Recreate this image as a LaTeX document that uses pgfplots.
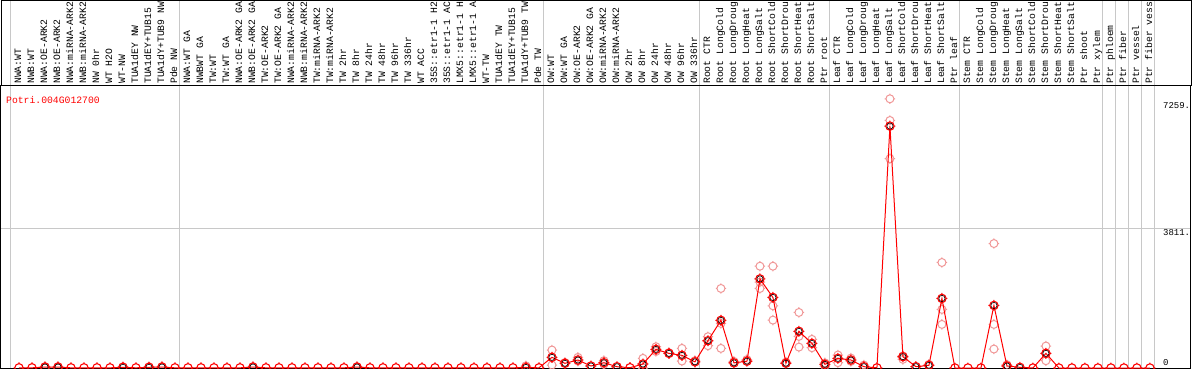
\documentclass[border=0pt]{standalone}
\usepackage{fontspec}
\usepackage{pgfplots}
\pgfplotsset{compat=1.18}
\newfontfamily\mono{Liberation Mono}
\definecolor{sepgray}{RGB}{200,200,200}
\definecolor{repred}{RGB}{240,150,150}
\pgfdeclareplotmark{tcirc}{%
  \pgfpathcircle{\pgfpointorigin}{\pgfplotmarksize}%
  \pgfpathmoveto{\pgfpoint{\pgfplotmarksize}{0pt}}\pgfpathlineto{\pgfpoint{1.3\pgfplotmarksize}{0pt}}%
  \pgfpathmoveto{\pgfpoint{-\pgfplotmarksize}{0pt}}\pgfpathlineto{\pgfpoint{-1.3\pgfplotmarksize}{0pt}}%
  \pgfpathmoveto{\pgfpoint{0pt}{\pgfplotmarksize}}\pgfpathlineto{\pgfpoint{0pt}{1.3\pgfplotmarksize}}%
  \pgfpathmoveto{\pgfpoint{0pt}{-\pgfplotmarksize}}\pgfpathlineto{\pgfpoint{0pt}{-1.3\pgfplotmarksize}}%
  \pgfusepathqstroke}
\begin{document}
\begin{tikzpicture}
\useasboundingbox (0,0) rectangle (1194pt,370pt);
\begin{axis}[at={(1pt,2pt)}, anchor=south west, scale only axis,
 width=1190pt, height=282pt,
 xmin=-1.3846, xmax=90.1538, ymin=0, ymax=7690,
 xtick={0,...,87},
 xticklabels={NWA:WT,NWB:WT,NWA:OE-ARK2,NWB:OE-ARK2,NWA:miRNA-ARK2,NWB:miRNA-ARK2,NW 0hr,WT H2O,WT-NW,TUA1dEY NW,TUA1dEY+TUB15,TUA1dY+TUB9 NW,Pde NW,
 NWA:WT GA,NWBWT GA,TW:WT,TW:WT GA,NWA:OE-ARK2 GA,NWB:OE-ARK2 GA,TW:OE-ARK2,TW:OE-ARK2 GA,NWA:miRNA-ARK2,NWB:miRNA-ARK2,TW:miRNA-ARK2,TW:miRNA-ARK2,TW 2hr,TW 8hr,TW 24hr,TW 48hr,TW 96hr,TW 336hr,WT ACC,35S::etr1-1 H2,35S::etr1-1 AC,LMX5::etr1-1 H,LMX5::etr1-1 A,WT-TW,TUA1dEY TW,TUA1dEY+TUB15,TUA1dY+TUB9 TW,Pde TW,
 OW:WT,OW:WT GA,OW:OE-ARK2,OW:OE-ARK2 GA,OW:miRNA-ARK2,OW:miRNA-ARK2,OW 2hr,OW 8hr,OW 24hr,OW 48hr,OW 96hr,OW 336hr,
 Root CTR,Root LongCold,Root LongDroug,Root LongHeat,Root LongSalt,Root ShortCold,Root ShortDrou,Root ShortHeat,Root ShortSalt,Ptr root,
 Leaf CTR,Leaf LongCold,Leaf LongDroug,Leaf LongHeat,Leaf LongSalt,Leaf ShortCold,Leaf ShortDrou,Leaf ShortHeat,Leaf ShortSalt,Ptr leaf,
 Stem CTR,Stem LongCold,Stem LongDroug,Stem LongHeat,Stem LongSalt,Stem ShortCold,Stem ShortDrou,Stem ShortHeat,Stem ShortSalt,Ptr shoot,Ptr xylem,
 Ptr phloem,Ptr fiber,Ptr vessel,Ptr fiber vess},
 xticklabel pos=upper,
 x tick label style={rotate=90, anchor=mid west, inner xsep=2pt, inner ysep=0pt, font=\mono\fontsize{9.75}{10}\selectfont},
 extra x ticks={-0.65,12.35,40.35,52.35,62.35,72.35,83.35,84.35,85.35,86.35,87.35},
 extra x tick labels={}, extra x tick style={grid=major},
 ytick={3811}, yticklabels={}, ymajorgrids,
 major grid style={sepgray, line width=1pt},
 major tick length=0pt,
 axis line style={black, line width=1pt},
 clip marker paths=true,
]
\addplot[only marks, mark=tcirc, mark size=4pt, repred, line width=1pt] coordinates {
(2,40)(2,10)(3,40)(3,10)(8,35)(10,35)(11,40)(18,40)(26,40)(39,60)
(41,490)(41,80)(42,150)(43,290)(43,188)(45,200)(45,100)(48,263)(48,0)(49,580)(49,450)(50,420)(51,535)(51,190)(52,200)
(53,853)(53,608)(54,2169)(54,1216)(54,535)(55,180)(56,230)(57,2776)(57,2169)(57,2345)(58,2776)(58,1696)(58,1306)(59,160)(60,1515)(60,862)(60,570)(61,781)(61,553)(62,140)(62,50)
(63,354)(63,145)(64,270)(64,180)(65,80)(67,7341)(67,6750)(67,5708)(68,236)(68,330)(70,100)(71,2877)(71,1598)(71,1189)
(75,3394)(75,1189)(75,517)(76,90)(79,599)(79,199)(79,400)};
\addplot[red, line width=1pt, mark=tcirc, mark size=4.2pt, mark options={red, line width=1.1pt}] coordinates {
(0,5)(1,5)(2,25)(3,25)(4,5)(5,5)(6,5)(7,5)(8,20)(9,5)(10,20)(11,25)(12,5)
(13,5)(14,5)(15,5)(16,5)(17,5)(18,25)(19,5)(20,5)(21,5)(22,5)(23,5)(24,5)(25,5)(26,25)(27,5)(28,5)(29,5)(30,5)(31,5)(32,5)(33,5)(34,5)(35,5)(36,5)(37,5)(38,5)(39,15)(40,5)
(41,291)(42,128)(43,218)(44,54)(45,145)(46,35)(47,8)(48,109)(49,508)(50,399)(51,345)(52,168)
(53,744)(54,1300)(55,140)(56,185)(57,2430)(58,1924)(59,130)(60,1000)(61,671)(62,100)
(63,263)(64,218)(65,36)(66,5)(67,6596)(68,308)(69,36)(70,73)(71,1897)(72,0)
(73,0)(74,0)(75,1706)(76,54)(77,18)(78,0)(79,399)(80,0)(81,0)(82,0)(83,0)(84,0)(85,0)(86,0)(87,0)};
\addplot[only marks, mark=o, mark size=3.1pt, black, line width=0.6pt] coordinates {
(2,25)(3,25)(8,20)(10,20)(11,25)(18,25)(26,25)(39,15)
(41,291)(42,128)(43,218)(44,54)(45,145)(46,35)(48,109)(49,508)(50,399)(51,345)(52,168)
(53,744)(54,1300)(55,140)(56,185)(57,2430)(58,1924)(59,130)(60,1000)(61,671)(62,100)
(63,263)(64,218)(65,36)(67,6596)(68,308)(69,36)(70,73)(71,1897)
(75,1706)(76,54)(77,18)(79,399)};
\node[anchor=base west, inner sep=0pt, red, font=\mono\fontsize{9.75}{10}\selectfont] at (axis cs:-1.0,7220) {Potri.004G012700};
\node[anchor=north west, inner sep=0pt, font=\mono\fontsize{9}{10}\selectfont] at (axis cs:88,7259) {7259.};
\node[anchor=north west, inner sep=0pt, yshift=-1pt, font=\mono\fontsize{9}{10}\selectfont] at (axis cs:88,3811) {3811.};
\node[anchor=south west, inner sep=0pt, yshift=2pt, font=\mono\fontsize{9}{10}\selectfont] at (axis cs:88,0) {0};
\end{axis}
\draw[black, line width=1pt] (1pt,284pt) -- (1pt,369.5pt) -- (1191pt,369.5pt) -- (1191pt,284pt);
\foreach \k in {0,13,41,53,63,73,84,85,86,87,88}{
  \pgfmathsetmacro{\sx}{10.55+13*\k}
  \draw[sepgray, line width=1pt] (\sx pt,284.5pt) -- (\sx pt,369pt);
}
\end{tikzpicture}
\end{document}
